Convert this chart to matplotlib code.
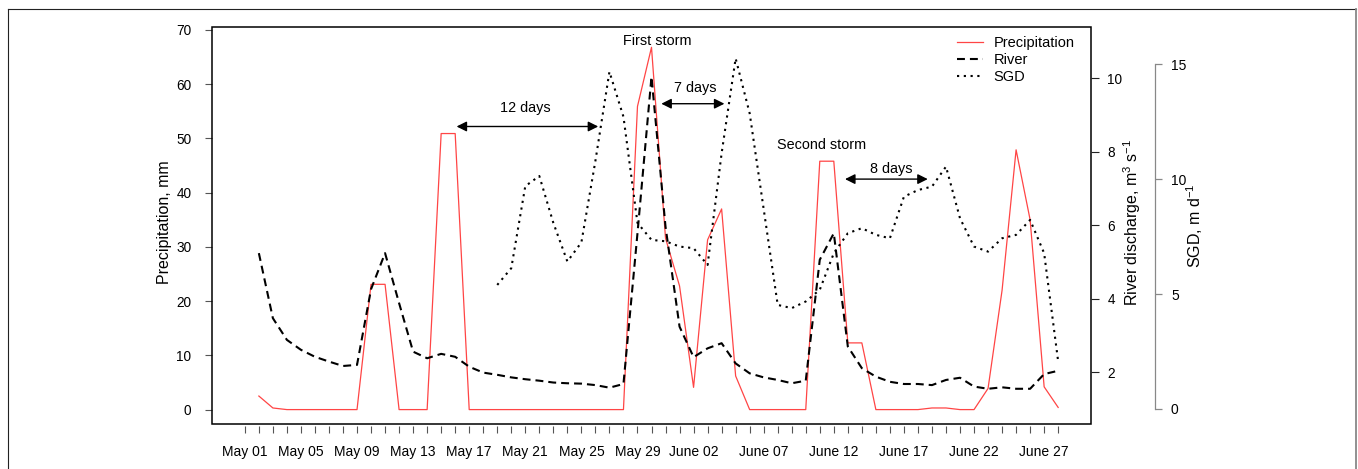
import matplotlib
matplotlib.use('Agg')
import matplotlib.pyplot as plt
from matplotlib.lines import Line2D
from matplotlib.patches import Rectangle

plt.rcParams['font.family'] = ['Liberation Sans', 'DejaVu Sans']
plt.rcParams['mathtext.fontset'] = 'custom'
plt.rcParams['mathtext.rm'] = 'Liberation Sans'
plt.rcParams['mathtext.it'] = 'Liberation Sans:italic'

# ---------------- data ----------------
# day index 0 = May 01
tick_days = list(range(0, 59))
label_days = [0, 4, 8, 12, 16, 20, 24, 28, 32, 37, 42, 47, 52, 57]
tick_labels = ['May 01', 'May 05', 'May 09', 'May 13', 'May 17', 'May 21',
               'May 25', 'May 29', 'June 02', 'June 07', 'June 12',
               'June 17', 'June 22', 'June 27']

precip_days = list(range(1, 59))
precipitation = [2.5, 0.3, 0, 0, 0, 0, 0, 0, 23.1, 23.1,
                 0, 0, 0, 50.9, 50.9, 0, 0, 0, 0, 0,
                 0, 0, 0, 0, 0, 0, 0, 55.9, 66.8, 31.6,
                 22.8, 4.1, 31.3, 37.0, 6.2, 0, 0, 0, 0, 0,
                 45.8, 45.8, 12.3, 12.3, 0, 0, 0, 0, 0.3, 0.3,
                 0, 0, 3.9, 22.0, 47.9, 35.0, 4.2, 0.4]

river_days = list(range(1, 59))
river = [5.24, 3.47, 2.88, 2.61, 2.42, 2.29, 2.17, 2.20, 4.26, 5.24,
         3.88, 2.56, 2.38, 2.50, 2.42, 2.15, 1.99, 1.93, 1.86, 1.81,
         1.77, 1.72, 1.70, 1.69, 1.65, 1.58, 1.68, 5.78, 10.04, 5.96,
         3.24, 2.41, 2.65, 2.79, 2.24, 1.97, 1.86, 1.79, 1.70, 1.77,
         5.06, 5.78, 2.70, 2.11, 1.88, 1.74, 1.68, 1.68, 1.65, 1.79,
         1.85, 1.61, 1.55, 1.59, 1.55, 1.55, 1.95, 2.04]

sgd_days = list(range(18, 59))
sgd = [5.4, 6.13, 9.7, 10.14, 8.1, 6.42, 7.25, 10.8, 14.68, 12.72,
       8.1, 7.36, 7.3, 7.07, 7.0, 6.27, 11.13, 15.26, 12.87, 8.7,
       4.53, 4.39, 4.68, 5.19, 6.78, 7.65, 7.87, 7.58, 7.43, 9.24,
       9.53, 9.68, 10.55, 8.3, 7.07, 6.85, 7.43, 7.58, 8.23, 6.78,
       2.07]

precip_ticks = [0, 10, 20, 30, 40, 50, 60, 70]
river_ticks = [2, 4, 6, 8, 10]
sgd_ticks = [0, 5, 10, 15]

# ---------------- figure ----------------
W, H = 1358, 469
fig = plt.figure(figsize=(W / 100, H / 100), dpi=100)
L, R, T, B = 212.3, 1090.7, 26.7, 423.7
ax = fig.add_axes([L / W, 1 - B / H, (R - L) / W, (B - T) / H])
ax2 = ax.twinx()
ax3 = ax.twinx()

tick_fs = 9.8
red = '#ff4545'

# precipitation
ax.plot(precip_days, precipitation, color=red, lw=0.9, zorder=3)
ax.set_xlim(-2.32, 60.32)
ax.set_ylim(-2.6, 70.6)
ax.set_yticks(precip_ticks)
ax.set_xticks(tick_days)
ax.set_xticklabels([tick_labels[label_days.index(d)] if d in label_days else ''
                    for d in tick_days], fontsize=tick_fs)
ax.set_yticklabels([str(v) for v in precip_ticks], fontsize=tick_fs)
ax.tick_params(axis='x', length=5, width=0.8, color='#555', pad=9)
ax.tick_params(axis='y', length=5, width=0.8, color='#555', pad=10)
for s in ax.spines.values():
    s.set_visible(False)
ax.spines['bottom'].set_position(('outward', 1.5))
ax.add_patch(Rectangle((0, 0), 1, 1, transform=ax.transAxes, fill=False,
                       ec='black', lw=1.1, clip_on=False, zorder=5))

# river
ax2.plot(river_days, river, color='black', lw=1.5,
         linestyle=(0, (3.8, 2.4)), zorder=3)
ax2.set_ylim(0.6, 11.4)
ax2.set_yticks(river_ticks)
ax2.set_yticklabels([str(v) for v in river_ticks], fontsize=tick_fs)
ax2.tick_params(axis='y', length=6, width=0.8, color='#222', pad=6)
for s in ax2.spines.values():
    s.set_visible(False)

# SGD
ax3.plot(sgd_days, sgd, color='black', lw=1.5,
         linestyle=(0, (1.05, 2.2)), zorder=3)
ax3.set_ylim(-0.64, 16.64)
ax3.set_yticks(sgd_ticks)
ax3.set_yticklabels([str(v) for v in sgd_ticks], fontsize=tick_fs)
for k, s in ax3.spines.items():
    s.set_visible(k == 'right')
ax3.spines['right'].set_position(('outward', 46.3))
ax3.spines['right'].set_bounds(0, 15)
ax3.spines['right'].set_color('#888')
ax3.spines['right'].set_linewidth(0.9)
ax3.tick_params(axis='y', length=5, width=0.9, color='#888', pad=6.5)

# axis labels
lab_fs = 11.5
fig.text(165 / W, 1 - 222.5 / H, 'Precipitation, mm', rotation=90,
         ha='center', va='center', fontsize=lab_fs)
fig.text(1131.7 / W, 1 - 222.5 / H, r'River discharge, m$^{3}$ s$^{-1}$',
         rotation=90, ha='center', va='center', fontsize=lab_fs)
fig.text(1195 / W, 1 - 225.8 / H, r'SGD, m d$^{-1}$', rotation=90,
         ha='center', va='center', fontsize=lab_fs)

# annotations
ann_fs = 10.4
ax.text(20.0, 54.9, '12 days', ha='center', va='baseline', fontsize=ann_fs)
ax.text(29.4, 67.25, 'First storm', ha='center', va='baseline', fontsize=ann_fs)
ax.text(32.1, 58.5, '7 days', ha='center', va='baseline', fontsize=ann_fs)
ax.text(41.1, 48.1, 'Second storm', ha='center', va='baseline', fontsize=ann_fs)
ax.text(46.07, 43.7, '8 days', ha='center', va='baseline', fontsize=ann_fs)
arrow_kw = dict(arrowstyle='<|-|>', color='black', lw=1.0,
                mutation_scale=15, shrinkA=0, shrinkB=0)
for x0, x1, yv in [(15.1, 25.2, 52.2), (29.7, 34.2, 56.4), (42.8, 48.7, 42.5)]:
    ax.annotate('', xy=(x1, yv), xytext=(x0, yv), arrowprops=arrow_kw)

# legend
handles = [Line2D([], [], color=red, lw=0.9),
           Line2D([], [], color='black', lw=1.5, linestyle=(0, (3.8, 2.4))),
           Line2D([], [], color='black', lw=1.5, linestyle=(0, (1.05, 2.2)))]
ax3.legend(handles, ['Precipitation', 'River', 'SGD'], loc='upper left',
           bbox_to_anchor=(957 / W, 1 - 36.5 / H), bbox_transform=fig.transFigure,
           frameon=False, borderpad=0, borderaxespad=0, handlelength=1.8,
           handletextpad=0.7, labelspacing=0.2, fontsize=10.5)

# outer figure border
fig.add_artist(Line2D([8.3 / W, 1355.7 / W], [1 - 9.3 / H, 1 - 9.3 / H],
                      transform=fig.transFigure, color='#222', lw=0.8))
fig.add_artist(Line2D([8.3 / W, 8.3 / W], [1 - 9.3 / H, 0],
                      transform=fig.transFigure, color='#222', lw=0.8))
fig.add_artist(Line2D([1355.7 / W, 1355.7 / W], [1 - 9.3 / H, 0],
                      transform=fig.transFigure, color='#888', lw=1.3))

fig.savefig('out.png', dpi=100)
